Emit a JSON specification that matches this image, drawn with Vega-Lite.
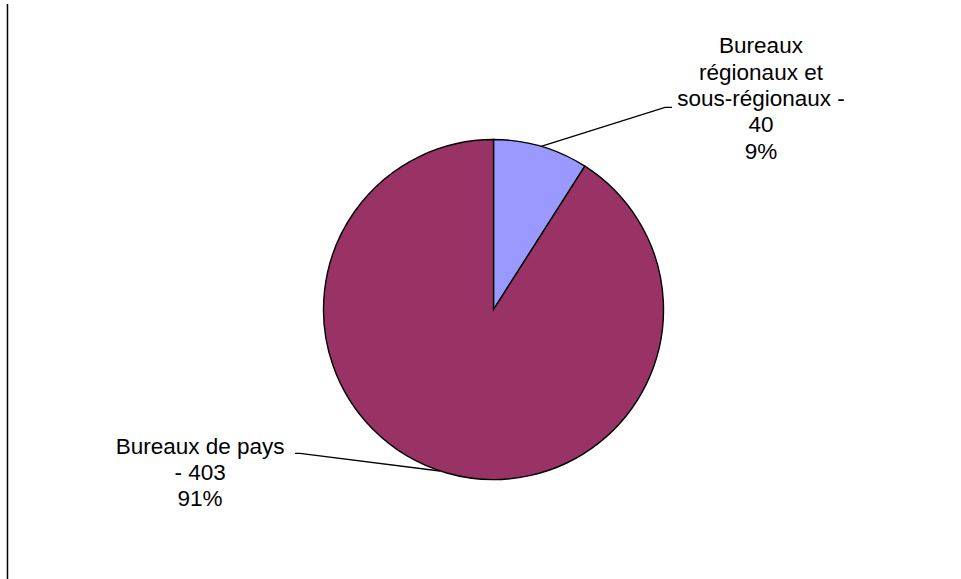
{
  "$schema": "https://vega.github.io/schema/vega-lite/v6.json",
  "width": 961,
  "height": 579,
  "padding": 0,
  "autosize": "none",
  "background": "white",
  "config": {"view": {"stroke": null}},
  "datasets": {
    "parts": [
      {"categorie": "Bureaux régionaux et sous-régionaux", "nombre": 40, "rang": 1},
      {"categorie": "Bureaux de pays", "nombre": 403, "rang": 2}
    ],
    "labels": [
      {"categorie": "Bureaux régionaux et sous-régionaux", "texte": "Bureaux\nrégionaux et\nsous-régionaux -\n40\n9%", "lx": 1.5735, "ly": 1.612},
      {"categorie": "Bureaux de pays", "texte": "Bureaux de pays\n- 403\n91%", "lx": -1.726, "ly": -0.741}
    ],
    "leaders": [
      {"categorie": "Bureaux régionaux et sous-régionaux", "pt": 1, "lx": 0.28, "ly": 0.96},
      {"categorie": "Bureaux régionaux et sous-régionaux", "pt": 2, "lx": 1.009, "ly": 1.189},
      {"categorie": "Bureaux régionaux et sous-régionaux", "pt": 3, "lx": 1.05, "ly": 1.189},
      {"categorie": "Bureaux de pays", "pt": 1, "lx": -0.315, "ly": -0.95},
      {"categorie": "Bureaux de pays", "pt": 2, "lx": -1.138, "ly": -0.846},
      {"categorie": "Bureaux de pays", "pt": 3, "lx": -1.168, "ly": -0.846}
    ],
    "frame": [
      {"lx": -2.859, "ly": 1.797, "ly2": -1.585}
    ]
  },
  "layer": [
    {
      "data": {"name": "frame"},
      "mark": {"type": "rule", "color": "black", "strokeWidth": 1.5},
      "encoding": {
        "x": {"field": "lx", "type": "quantitative", "scale": {"domain": [-2.903, 2.75], "nice": false, "zero": false}, "axis": null},
        "y": {"field": "ly", "type": "quantitative", "scale": {"domain": [-1.585, 1.8206], "nice": false, "zero": false}, "axis": null},
        "y2": {"field": "ly2"}
      }
    },
    {
      "data": {"name": "parts"},
      "mark": {"type": "arc", "outerRadius": 170, "stroke": "black", "strokeWidth": 1.4},
      "encoding": {
        "x": {"datum": 0, "type": "quantitative"},
        "y": {"datum": 0, "type": "quantitative"},
        "theta": {"field": "nombre", "type": "quantitative", "stack": true},
        "order": {"field": "rang", "type": "quantitative"},
        "color": {"field": "categorie", "type": "nominal", "legend": null,
          "scale": {"domain": ["Bureaux régionaux et sous-régionaux", "Bureaux de pays"], "range": ["#9999FF", "#993366"]}}
      }
    },
    {
      "data": {"name": "leaders"},
      "mark": {"type": "line", "color": "black", "strokeWidth": 1.4},
      "encoding": {
        "x": {"field": "lx", "type": "quantitative"},
        "y": {"field": "ly", "type": "quantitative"},
        "detail": {"field": "categorie"},
        "order": {"field": "pt", "type": "quantitative"}
      }
    },
    {
      "data": {"name": "labels"},
      "mark": {"type": "text", "align": "center", "baseline": "top", "lineBreak": "\n", "lineHeight": 26.3, "font": "Liberation Sans", "fontSize": 22.5, "color": "black"},
      "encoding": {
        "x": {"field": "lx", "type": "quantitative"},
        "y": {"field": "ly", "type": "quantitative"},
        "text": {"field": "texte"}
      }
    }
  ]
}
